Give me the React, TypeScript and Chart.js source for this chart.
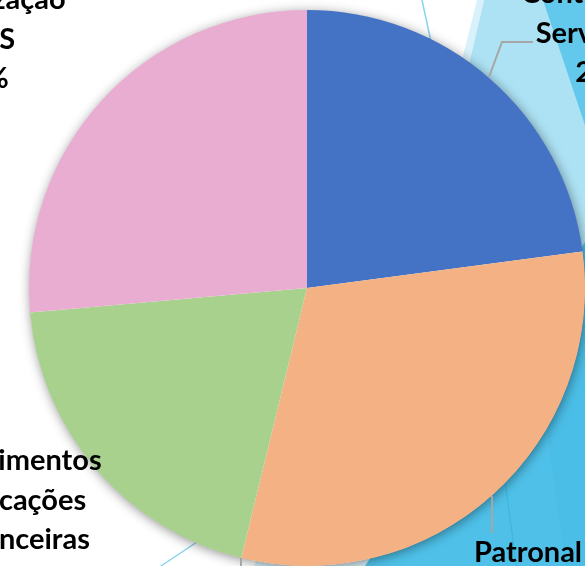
import { useEffect, useRef } from "react";
import { Chart, registerables } from "chart.js";

Chart.register(...registerables);

// ---- data ----
const categories = [
  "Contribuição Servidores",
  "Patronal",
  "Rendimentos Aplicações Financeiras",
  "Capitalização RPPS",
];
const labelLines = [
  ["Contribuição", "Servidores"],
  ["Patronal"],
  ["Rendimentos", "Aplicações", "Financeiras"],
  ["Capitalização", "RPPS"],
];
const values = [22.9, 30.9, 19.8, 26.4];
const colors = ["#4472C4", "#F4B183", "#A9D18E", "#E8ADD1"];

// ---- label layout (text anchor: centre x, first baseline y) ----
const labelAnchors = [
  { x: 604, y: 3 },
  { x: 528, y: 562 },
  { x: 17, y: 470 },
  { x: -20, y: 9 },
];
const LINE_H = 39.5;
const FONT = "bold 29px Lato";

const W = 600;
const H = 600;

const backgroundPlugin = {
  id: "slideBackground",
  beforeDraw(chart: any) {
    const ctx = chart.ctx as CanvasRenderingContext2D;
    ctx.save();
    ctx.fillStyle = "#ffffff";
    ctx.fillRect(0, 0, W, H);
    const poly = (pts: number[][], color: string) => {
      ctx.beginPath();
      ctx.moveTo(pts[0][0], pts[0][1]);
      for (let i = 1; i < pts.length; i++) ctx.lineTo(pts[i][0], pts[i][1]);
      ctx.closePath();
      ctx.fillStyle = color;
      ctx.fill();
    };
    // pale strip
    poly([[477, 0], [484, 0], [470, 60], [365, 600], [240, 600], [462, 60]], "#D9F1FA");
    // light blue area
    poly([[484, 0], [600, 0], [600, 600], [365, 600], [470, 60]], "#ADE2F4");
    // darker triangle top right
    poly([[543, 0], [600, 0], [600, 170]], "#62C8EC");
    // medium blue area bottom right
    poly([[365, 566], [600, 566], [600, 220]], "#4FC1E9");
    // faint shade region in the medium area
    poly([[540, 380], [600, 300], [600, 600], [570, 600]], "#4BBEE7");
    // thin lines
    const line = (x1: number, y1: number, x2: number, y2: number, c: string, w: number) => {
      ctx.beginPath();
      ctx.moveTo(x1, y1);
      ctx.lineTo(x2, y2);
      ctx.strokeStyle = c;
      ctx.lineWidth = w;
      ctx.stroke();
    };
    line(422, 0, 436, 65, "#86D4F0", 1.5);
    line(158, 568, 215, 530, "#86D4F0", 1.5);
    line(470, 220, 521, 600, "#3FB5E0", 1.2);
    ctx.restore();
  },
};

const shadowPlugin = {
  id: "pieShadow",
  beforeDatasetsDraw(chart: any) {
    const arc = chart.getDatasetMeta(0).data[0];
    if (!arc) return;
    const ctx = chart.ctx as CanvasRenderingContext2D;
    ctx.save();
    ctx.beginPath();
    ctx.arc(arc.x, arc.y, arc.outerRadius - 0.5, 0, Math.PI * 2);
    ctx.shadowColor = "rgba(0,0,0,0.45)";
    ctx.shadowBlur = 12;
    ctx.shadowOffsetX = 1;
    ctx.shadowOffsetY = 2;
    ctx.fillStyle = "#ffffff";
    ctx.fill();
    ctx.restore();
  },
};

const labelPlugin = {
  id: "pieLabels",
  afterDraw(chart: any) {
    const ctx = chart.ctx as CanvasRenderingContext2D;
    const data = chart.data.datasets[0].data as number[];
    const total = data.reduce((a, b) => a + b, 0);
    ctx.save();
    // leader lines
    ctx.strokeStyle = "#A6A6A6";
    ctx.lineWidth = 2;
    ctx.beginPath();
    ctx.moveTo(489, 77);
    ctx.lineTo(502, 42);
    ctx.lineTo(533, 42);
    ctx.moveTo(492, 496);
    ctx.lineTo(492, 533);
    ctx.moveTo(241, 558);
    ctx.lineTo(241, 575);
    ctx.stroke();
    // text
    ctx.font = FONT;
    ctx.fillStyle = "#000000";
    ctx.textAlign = "center";
    ctx.textBaseline = "alphabetic";
    labelLines.forEach((lines, i) => {
      const a = labelAnchors[i];
      const all = [...lines, Math.round((data[i] / total) * 100) + "%"];
      all.forEach((t, k) => ctx.fillText(t, a.x, a.y + k * LINE_H));
    });
    ctx.restore();
  },
};

export default function App() {
  const ref = useRef<HTMLCanvasElement | null>(null);
  useEffect(() => {
    document.body.style.margin = "0";
    if (!ref.current) return;
    const chart = new Chart(ref.current, {
      type: "pie",
      data: {
        labels: categories,
        datasets: [
          {
            data: values,
            backgroundColor: colors,
            borderWidth: 0,
          },
        ],
      },
      options: {
        responsive: false,
        animation: false,
        devicePixelRatio: 1,
        rotation: 0,
        layout: { padding: { left: 29, top: 10, right: W - 29 - 556, bottom: H - 10 - 556 } },
        plugins: {
          legend: { display: false },
          tooltip: { enabled: false },
        },
      },
      plugins: [backgroundPlugin, shadowPlugin, labelPlugin],
    } as any);
    const fonts: any = (document as any).fonts;
    if (fonts && fonts.load) {
      fonts.load(FONT).then(() => chart.draw()).catch(() => {});
    }
    return () => chart.destroy();
  }, []);
  return (
    <div
      style={{
        position: "fixed",
        left: 0,
        top: 0,
        width: 585,
        height: 566,
        overflow: "hidden",
        background: "#ffffff",
      }}
    >
      <canvas ref={ref} width={W} height={H} style={{ width: W, height: H, display: "block" }} />
    </div>
  );
}
